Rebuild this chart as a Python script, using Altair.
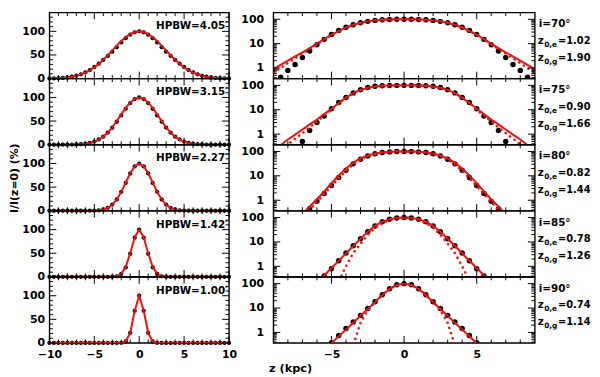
import altair as alt
import pandas as pd

FONT = "DejaVu Sans"
RED = "#ee1111"

# ---------------- left column: linear profiles ----------------
LEFT_Z = [-10, -9.5, -9, -8.5, -8, -7.5, -7, -6.5, -6, -5.5, -5, -4.5, -4, -3.5, -3, -2.5, -2, -1.5, -1, -0.5,
          0, 0.5, 1, 1.5, 2, 2.5, 3, 3.5, 4, 4.5, 5, 5.5, 6, 6.5, 7, 7.5, 8, 8.5, 9, 9.5, 10]

HPBW = ["HPBW=4.05\u2032", "HPBW=3.15\u2032", "HPBW=2.27\u2032", "HPBW=1.42\u2032", "HPBW=1.00\u2032"]

L_DOTS_1 = [0.1, 0.3, 0.7, 1.3, 2.3, 3.8, 6, 9, 13, 18, 24.5, 31.5, 39.5, 48, 57, 66.5, 76.5, 85.5, 93, 98,
            100, 98, 93, 85.5, 76.5, 66.5, 57, 48, 39.5, 31.5, 24.5, 18, 13, 9, 6, 3.8, 2.3, 1.3, 0.7, 0.3, 0.1]
L_FIT_1 = [0.3, 0.6, 1.0, 1.6, 2.5, 3.9, 6.0, 8.8, 12.6, 17.6, 23.8, 31.2, 39.9, 49.5, 59.6, 69.8, 79.5, 87.9, 94.4, 98.6,
           100, 98.6, 94.4, 87.9, 79.5, 69.8, 59.6, 49.5, 39.9, 31.2, 23.8, 17.6, 12.6, 8.8, 6.0, 3.9, 2.5, 1.6, 1.0, 0.6, 0.3]
L_DOTS_2 = [0, 0, 0, 0, 0, 0.2, 0.5, 1, 2, 3.8, 6.5, 11, 17, 25.5, 36, 48.5, 62, 76, 88, 96.5,
            100, 96.5, 88, 76, 62, 48.5, 36, 25.5, 17, 11, 6.5, 3.8, 2, 1, 0.5, 0.2, 0, 0, 0, 0, 0]
L_FIT_2 = [0, 0, 0, 0, 0, 0.2, 0.4, 0.9, 1.8, 3.5, 6.2, 10.5, 16.9, 25.6, 36.8, 50, 64.1, 77.9, 89.5, 97.3,
           100, 97.3, 89.5, 77.9, 64.1, 50, 36.8, 25.6, 16.9, 10.5, 6.2, 3.5, 1.8, 0.9, 0.4, 0.2, 0, 0, 0, 0, 0]
L_DOTS_3 = [0, 0, 0, 0, 0, 0, 0, 0, 0, 0.1, 0.3, 1.0, 2.7, 6.3, 13, 24, 40, 59, 79, 94,
            100, 94, 79, 59, 40, 24, 13, 6.3, 2.7, 1.0, 0.3, 0.1, 0, 0, 0, 0, 0, 0, 0, 0, 0]
L_FIT_3 = [0, 0, 0, 0, 0, 0, 0, 0, 0, 0.1, 0.3, 1.0, 2.6, 6.1, 12.8, 24, 40.1, 59.8, 79.6, 94.4,
           100, 94.4, 79.6, 59.8, 40.1, 24, 12.8, 6.1, 2.6, 1.0, 0.3, 0.1, 0, 0, 0, 0, 0, 0, 0, 0, 0]
L_DOTS_4 = [0, 0, 0, 0, 0, 0, 0, 0, 0, 0, 0, 0, 0, 0, 0.2, 1.2, 6, 20, 49, 83,
            100, 83, 49, 20, 6, 1.2, 0.2, 0, 0, 0, 0, 0, 0, 0, 0, 0, 0, 0, 0, 0, 0]
L_FIT_4 = [0, 0, 0, 0, 0, 0, 0, 0, 0, 0, 0, 0, 0, 0, 0.2, 1.3, 6.3, 21.1, 50, 84.1,
           100, 84.1, 50, 21.1, 6.3, 1.3, 0.2, 0, 0, 0, 0, 0, 0, 0, 0, 0, 0, 0, 0, 0, 0]
L_DOTS_5 = [0, 0, 0, 0, 0, 0, 0, 0, 0, 0, 0, 0, 0, 0, 0, 0, 0.2, 3.1, 21.5, 68,
            100, 68, 21.5, 3.1, 0.2, 0, 0, 0, 0, 0, 0, 0, 0, 0, 0, 0, 0, 0, 0, 0, 0]
L_FIT_5 = [0, 0, 0, 0, 0, 0, 0, 0, 0, 0, 0, 0, 0, 0, 0, 0, 0.2, 3.1, 21.5, 68,
           100, 68, 21.5, 3.1, 0.2, 0, 0, 0, 0, 0, 0, 0, 0, 0, 0, 0, 0, 0, 0, 0, 0]

L_DOTS = [L_DOTS_1, L_DOTS_2, L_DOTS_3, L_DOTS_4, L_DOTS_5]
L_FIT = [L_FIT_1, L_FIT_2, L_FIT_3, L_FIT_4, L_FIT_5]

# ---------------- right column: log profiles ----------------
RIGHT_Z = [-9, -8.5, -8, -7.5, -7, -6.5, -6, -5.5, -5, -4.5, -4, -3.5, -3, -2.5, -2, -1.5, -1, -0.5,
           0, 0.5, 1, 1.5, 2, 2.5, 3, 3.5, 4, 4.5, 5, 5.5, 6, 6.5, 7, 7.5, 8, 8.5, 9]

INCL = ["i=70\u00b0", "i=75\u00b0", "i=80\u00b0", "i=85\u00b0", "i=90\u00b0"]
Z0E = ["=1.02", "=0.90", "=0.82", "=0.78", "=0.74"]
Z0G = ["=1.90", "=1.66", "=1.44", "=1.26", "=1.14"]

R_DOTS_1 = [0.2, 0.42, 0.8, 1.4, 2.7, 5, 9, 15, 24, 35, 47, 60, 72, 82, 90, 95, 98, 99.5,
            100, 99.5, 98, 95, 90, 82, 72, 60, 47, 35, 24, 15, 9, 5, 2.7, 1.4, 0.8, 0.42, 0.2]
R_FIT_1 = [0.9, 1.35, 2.0, 3.0, 4.4, 6.6, 10, 15.5, 23, 33, 46, 59, 72, 82, 90, 95, 98, 99.5,
           100, 99.5, 98, 95, 90, 82, 72, 59, 46, 33, 23, 15.5, 10, 6.6, 4.4, 3.0, 2.0, 1.35, 0.9]
R_DOT_1 = [0.65, 1.0, 1.6, 2.5, 3.9, 6.0, 9.5, 15, 23, 33, 46, 59, 72, 82, 90, 95, 98, 99.5,
           100, 99.5, 98, 95, 90, 82, 72, 59, 46, 33, 23, 15, 9.5, 6.0, 3.9, 2.5, 1.6, 1.0, 0.65]

R_DOTS_2 = [0.02, 0.05, 0.1, 0.2, 0.5, 1.4, 3.0, 5.5, 11, 20, 32, 49, 66, 82, 92, 96, 98.5, 99.5,
            100, 99.5, 98.5, 96, 92, 82, 66, 49, 32, 20, 11, 5.5, 3.0, 1.4, 0.5, 0.2, 0.1, 0.05, 0.02]
R_FIT_2 = [0.22, 0.36, 0.6, 0.95, 1.55, 2.5, 4.0, 6.6, 11, 19, 31, 48, 65, 80, 90, 96, 99, 100,
           100, 100, 99, 96, 90, 80, 65, 48, 31, 19, 11, 6.6, 4.0, 2.5, 1.55, 0.95, 0.6, 0.36, 0.22]
R_DOT_2 = [0.12, 0.22, 0.38, 0.65, 1.1, 1.9, 3.3, 5.8, 10, 19, 31, 48, 65, 80, 90, 96, 99, 100,
           100, 100, 99, 96, 90, 80, 65, 48, 31, 19, 10, 5.8, 3.3, 1.9, 1.1, 0.65, 0.38, 0.22, 0.12]

R_DOTS_3 = [0.01, 0.02, 0.05, 0.1, 0.2, 0.45, 0.9, 1.9, 4.0, 8.5, 17, 31, 48, 65, 80, 90, 96, 99,
            100, 99, 96, 90, 80, 65, 48, 31, 17, 8.5, 4.0, 1.9, 0.9, 0.45, 0.2, 0.1, 0.05, 0.02, 0.01]
R_FIT_3 = [0.015, 0.03, 0.06, 0.13, 0.27, 0.55, 1.1, 2.3, 5, 10.5, 20, 35, 52, 68, 82, 92, 97, 99.5,
           100, 99.5, 97, 92, 82, 68, 52, 35, 20, 10.5, 5, 2.3, 1.1, 0.55, 0.27, 0.13, 0.06, 0.03, 0.015]
R_DOT_3 = [0.01, 0.01, 0.02, 0.06, 0.17, 0.4, 0.85, 1.8, 3.8, 8, 16, 30, 47, 64, 79, 90, 96, 99,
           100, 99, 96, 90, 79, 64, 47, 30, 16, 8, 3.8, 1.8, 0.85, 0.4, 0.17, 0.06, 0.02, 0.01, 0.01]

R_DOTS_4 = [0.01, 0.01, 0.01, 0.02, 0.05, 0.1, 0.2, 0.4, 0.8, 1.7, 3.5, 7, 13.5, 26, 45, 67, 85, 96,
            100, 96, 85, 67, 45, 26, 13.5, 7, 3.5, 1.7, 0.8, 0.4, 0.2, 0.1, 0.05, 0.02, 0.01, 0.01, 0.01]
R_FIT_4 = [0.003, 0.006, 0.012, 0.025, 0.05, 0.1, 0.21, 0.42, 0.85, 1.7, 3.4, 6.8, 13.5, 26, 46, 68, 86, 97,
           100, 97, 86, 68, 46, 26, 13.5, 6.8, 3.4, 1.7, 0.85, 0.42, 0.21, 0.1, 0.05, 0.025, 0.012, 0.006, 0.003]
R_DOT_4 = [0.01, 0.01, 0.01, 0.01, 0.01, 0.01, 0.01, 0.01, 0.05, 0.25, 1.0, 3.5, 8.5, 20, 38, 58, 78, 95,
           100, 95, 78, 58, 38, 20, 8.5, 3.5, 1.0, 0.25, 0.05, 0.01, 0.01, 0.01, 0.01, 0.01, 0.01, 0.01, 0.01]

R_DOTS_5 = [0.01, 0.01, 0.01, 0.01, 0.03, 0.05, 0.1, 0.2, 0.38, 0.75, 1.45, 2.7, 5.0, 9.5, 18, 35, 62, 90,
            100, 90, 62, 35, 18, 9.5, 5.0, 2.7, 1.45, 0.75, 0.38, 0.2, 0.1, 0.05, 0.03, 0.01, 0.01, 0.01, 0.01]
R_FIT_5 = [0.01, 0.01, 0.01, 0.014, 0.027, 0.05, 0.1, 0.19, 0.36, 0.7, 1.3, 2.5, 4.8, 9.2, 17.5, 34, 60, 88,
           100, 88, 60, 34, 17.5, 9.2, 4.8, 2.5, 1.3, 0.7, 0.36, 0.19, 0.1, 0.05, 0.027, 0.014, 0.01, 0.01, 0.01]
R_DOT_5 = [0.01, 0.01, 0.01, 0.01, 0.01, 0.01, 0.01, 0.01, 0.01, 0.01, 0.01, 0.3, 2.5, 8, 18, 36, 62, 88,
           100, 88, 62, 36, 18, 8, 2.5, 0.3, 0.01, 0.01, 0.01, 0.01, 0.01, 0.01, 0.01, 0.01, 0.01, 0.01, 0.01]

R_DOTS = [R_DOTS_1, R_DOTS_2, R_DOTS_3, R_DOTS_4, R_DOTS_5]
R_FIT = [R_FIT_1, R_FIT_2, R_FIT_3, R_FIT_4, R_FIT_5]
R_DOT = [R_DOT_1, R_DOT_2, R_DOT_3, R_DOT_4, R_DOT_5]

# tick positions
LX_MAJOR = [-10, -5, 0, 5, 10]
LX_MINOR = [-9, -8, -7, -6, -4, -3, -2, -1, 1, 2, 3, 4, 6, 7, 8, 9]
LY_MAJOR = [0, 50, 100]
LY_MINOR = [10, 20, 30, 40, 60, 70, 80, 90, 110, 120, 130]
RX_MAJOR = [-5, 0, 5]
RX_MINOR = [-8, -7, -6, -4, -3, -2, -1, 1, 2, 3, 4, 6, 7, 8]
RY_MAJOR = [1, 10, 100]
RY_MINOR = [0.4, 0.5, 0.6, 0.7, 0.8, 0.9, 2, 3, 4, 5, 6, 7, 8, 9, 20, 30, 40, 50, 60, 70, 80, 90]

WL, WR, H = 182, 265, 67
MAJ, MIN = 7, 3.5


def tick_layers(xmaj, xmin, ymaj, ymin, xs, ys, xax, yax, W):
    out = []
    for vals, ln in ((xmaj, MAJ), (xmin, MIN)):
        d = pd.DataFrame({"v": vals})
        out.append(alt.Chart(d).mark_rule(color="black", strokeWidth=1).encode(
            x=alt.X("v:Q", scale=xs, axis=xax), y=alt.value(H), y2=alt.value(H - ln)))
        out.append(alt.Chart(d).mark_rule(color="black", strokeWidth=1).encode(
            x=alt.X("v:Q", scale=xs, axis=xax), y=alt.value(0), y2=alt.value(ln)))
    for vals, ln in ((ymaj, MAJ), (ymin, MIN)):
        d = pd.DataFrame({"v": vals})
        out.append(alt.Chart(d).mark_rule(color="black", strokeWidth=1).encode(
            y=alt.Y("v:Q", scale=ys, axis=yax), x=alt.value(0), x2=alt.value(ln)))
        out.append(alt.Chart(d).mark_rule(color="black", strokeWidth=1).encode(
            y=alt.Y("v:Q", scale=ys, axis=yax), x=alt.value(W), x2=alt.value(W - ln)))
    return out


def lab_axis(values, **kw):
    base = dict(values=values, ticks=False, domain=False, grid=False, labelFlush=False,
                labelOverlap=False, labelFont=FONT, labelFontSize=11, labelFontWeight="bold",
                labelColor="black", format="d", titleFont=FONT, titleFontSize=11,
                titleFontWeight="bold", titleColor="black")
    base.update(kw)
    return alt.Axis(**base)


def left_panel(i):
    xs = alt.Scale(domain=[-10, 10], nice=False, zero=False)
    ys = alt.Scale(domain=[0, 140], nice=False, zero=False)
    bottom = i == 4
    xax = lab_axis(LX_MAJOR, labelPadding=6, title=None) if bottom else None
    yax = lab_axis(LY_MAJOR, labelPadding=5, titlePadding=2,
                   title="I/I(z=0) (%)" if i == 2 else None)
    df = pd.DataFrame({"z": LEFT_Z, "dots": L_DOTS[i], "fit": L_FIT[i]})
    dots = alt.Chart(df).mark_circle(size=19, color="black", opacity=1).encode(
        x=alt.X("z:Q", scale=xs, axis=xax), y=alt.Y("dots:Q", scale=ys, axis=yax))
    fit = alt.Chart(df).mark_line(color=RED, strokeWidth=2, clip=True).encode(
        x=alt.X("z:Q", scale=xs, axis=xax), y=alt.Y("fit:Q", scale=ys, axis=yax))
    lab = alt.Chart(pd.DataFrame({"t": [HPBW[i]]})).mark_text(
        font=FONT, fontSize=10.5, fontWeight="bold", align="right", baseline="alphabetic",
        color="black").encode(text="t:N", x=alt.value(WL - 1), y=alt.value(17))
    layers = [dots, fit, lab] + tick_layers(LX_MAJOR, LX_MINOR, LY_MAJOR, LY_MINOR,
                                            xs, ys, xax, yax, WL)
    return alt.layer(*layers).properties(width=WL, height=H)


def right_panel(i):
    xs = alt.Scale(domain=[-9, 9], nice=False, zero=False)
    ys = alt.Scale(type="log", domain=[0.37, 190], nice=False)
    bottom = i == 4
    xax = lab_axis(RX_MAJOR, labelPadding=6, title="z (kpc)", titleX=-5, titleY=20,
                   titleAlign="left", titleBaseline="top", titleFontSize=11.5) if bottom else None
    yax = lab_axis(RY_MAJOR, labelPadding=10, title=None)
    df = pd.DataFrame({"z": RIGHT_Z, "dots": R_DOTS[i], "fit": R_FIT[i], "dot": R_DOT[i]})
    dots = alt.Chart(df).mark_circle(size=30, color="black", opacity=1, clip=True).encode(
        x=alt.X("z:Q", scale=xs, axis=xax), y=alt.Y("dots:Q", scale=ys, axis=yax))
    fit = alt.Chart(df).mark_line(color=RED, strokeWidth=2, clip=True).encode(
        x=alt.X("z:Q", scale=xs, axis=xax), y=alt.Y("fit:Q", scale=ys, axis=yax))
    dotted = alt.Chart(df).mark_line(color=RED, strokeWidth=2.6, clip=True, strokeCap="round",
                                     strokeDash=[0.1, 5.5]).encode(
        x=alt.X("z:Q", scale=xs, axis=xax), y=alt.Y("dot:Q", scale=ys, axis=yax))
    tx = dict(font=FONT, fontWeight="bold", align="left", baseline="alphabetic", color="black")
    t_i = alt.Chart(pd.DataFrame({"t": [INCL[i]]})).mark_text(fontSize=10.5, **tx).encode(
        text="t:N", x=alt.value(WR + 4), y=alt.value(15))
    t_z1 = alt.Chart(pd.DataFrame({"t": ["z"]})).mark_text(fontSize=10.5, **tx).encode(
        text="t:N", x=alt.value(WR + 3), y=alt.value(32))
    t_s1 = alt.Chart(pd.DataFrame({"t": ["0,e"]})).mark_text(fontSize=7.5, **tx).encode(
        text="t:N", x=alt.value(WR + 9.5), y=alt.value(35))
    t_v1 = alt.Chart(pd.DataFrame({"t": [Z0E[i]]})).mark_text(fontSize=10, **tx).encode(
        text="t:N", x=alt.value(WR + 23.5), y=alt.value(32))
    t_z2 = alt.Chart(pd.DataFrame({"t": ["z"]})).mark_text(fontSize=10.5, **tx).encode(
        text="t:N", x=alt.value(WR + 3), y=alt.value(49))
    t_s2 = alt.Chart(pd.DataFrame({"t": ["0,g"]})).mark_text(fontSize=7.5, **tx).encode(
        text="t:N", x=alt.value(WR + 9.5), y=alt.value(52))
    t_v2 = alt.Chart(pd.DataFrame({"t": [Z0G[i]]})).mark_text(fontSize=10, **tx).encode(
        text="t:N", x=alt.value(WR + 23.5), y=alt.value(49))
    layers = [dots, fit, dotted, t_i, t_z1, t_s1, t_v1, t_z2, t_s2, t_v2] + \
        tick_layers(RX_MAJOR, RX_MINOR, RY_MAJOR, RY_MINOR, xs, ys, xax, yax, WR)
    return alt.layer(*layers).properties(width=WR, height=H)


panels = []
for i in range(5):
    panels.append(left_panel(i))
    panels.append(right_panel(i))

chart = alt.concat(*panels, columns=2, spacing={"row": 0, "column": 45},
                   bounds="flush").properties(padding=0).configure_view(
    stroke="black", strokeWidth=1.4)

chart.save("out.html", embed_options={"renderer": "svg", "actions": False})
